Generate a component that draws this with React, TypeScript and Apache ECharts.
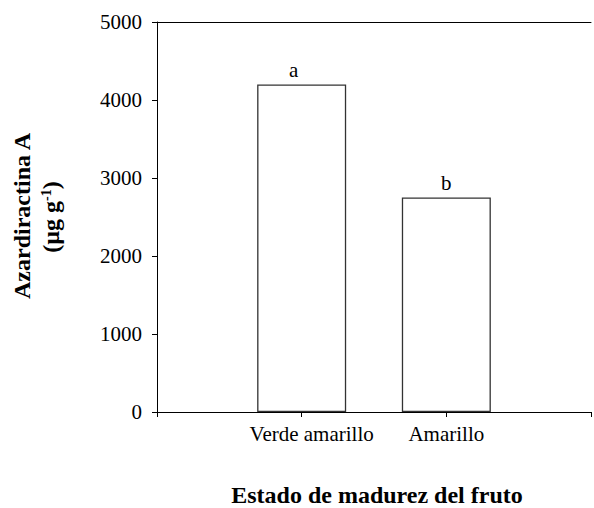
import React, { useEffect, useRef } from "react";
import * as echarts from "echarts";

const categories = ["Verde amarillo", "Amarillo"];
const values = [4200, 2750];
const letters = ["a", "b"];
const yTicks = [0, 1000, 2000, 3000, 4000, 5000];

// small horizontal shifts seen in the reference (pixels)
const categoryLabelShift = [10, 0];
const letterShift = [-8, 0];

const FONT = "'Liberation Serif', 'Times New Roman', serif";

export default function App() {
  const ref = useRef<HTMLDivElement>(null);
  useEffect(() => {
    if (!ref.current) return;
    const chart = echarts.init(ref.current, undefined, { renderer: "svg" });
    const data = values.map((v, i) => ({
      value: [i + 1, v],
      label: { offset: [letterShift[i], 0] },
    }));
    const rich: Record<string, any> = {};
    categories.forEach((_, i) => {
      rich["c" + i] = {
        fontSize: 21,
        color: "#000",
        fontFamily: FONT,
        padding: [0, 0, 0, 2 * categoryLabelShift[i]],
      };
    });
    chart.setOption({
      animation: false,
      backgroundColor: "#ffffff",
      textStyle: { fontFamily: FONT },
      grid: { left: 157, right: -7, top: 22, bottom: 96, containLabel: false },
      xAxis: [
        {
          type: "value",
          min: 0,
          max: 3,
          interval: 1,
          position: "bottom",
          axisLine: { show: true, lineStyle: { color: "#000", width: 1 } },
          axisTick: { show: true, length: 5, lineStyle: { color: "#000" } },
          splitLine: { show: false },
          axisLabel: {
            margin: 11,
            fontSize: 21,
            color: "#000",
            fontFamily: FONT,
            rich,
            formatter: (v: number) => {
              const i = v - 1;
              return categories[i] ? `{c${i}|${categories[i]}}` : "";
            },
          },
        },
        {
          type: "value",
          min: 0,
          max: 3,
          position: "top",
          axisLine: { show: true, lineStyle: { color: "#000", width: 1 } },
          axisTick: { show: false },
          axisLabel: { show: false },
          splitLine: { show: false },
        },
      ],
      yAxis: {
        type: "value",
        min: yTicks[0],
        max: yTicks[yTicks.length - 1],
        interval: 1000,
        axisLine: { show: true, lineStyle: { color: "#000", width: 1 } },
        axisTick: { show: true, length: 5, lineStyle: { color: "#000" } },
        splitLine: { show: false },
        axisLabel: {
          margin: 15,
          fontSize: 21,
          color: "#000",
          fontFamily: FONT,
          formatter: (v: number) => String(v),
        },
      },
      series: [
        {
          type: "bar",
          data,
          barWidth: 89,
          itemStyle: { color: "#ffffff", borderColor: "#333", borderWidth: 1.3 },
          label: {
            show: true,
            position: "top",
            distance: 4,
            fontSize: 21,
            color: "#000",
            fontFamily: FONT,
            formatter: (p: any) => letters[p.dataIndex],
          },
        },
      ],
      graphic: [
        {
          type: "text",
          x: 22,
          y: 216,
          rotation: Math.PI / 2,
          style: {
            text: "Azardiractina A",
            font: `bold 24px ${FONT}`,
            fill: "#000",
            align: "center",
            verticalAlign: "middle",
          },
        },
        {
          type: "text",
          x: 51,
          y: 217,
          rotation: Math.PI / 2,
          style: {
            text: "{n|(µg g}{s|-1}{n|)}",
            align: "center",
            verticalAlign: "middle",
            rich: {
              n: { font: `bold 24px ${FONT}`, fill: "#000", lineHeight: 24 },
              s: { font: `bold 14px ${FONT}`, fill: "#000", verticalAlign: "top", lineHeight: 14 },
            },
          },
        },
        {
          type: "text",
          x: 377,
          y: 495,
          style: {
            text: "Estado de madurez del fruto",
            font: `bold 24px ${FONT}`,
            fill: "#000",
            align: "center",
            verticalAlign: "middle",
          },
        },
      ],
    });
    return () => chart.dispose();
  }, []);
  return (
    <div
      ref={ref}
      style={{ position: "fixed", left: 0, top: 0, width: 594, height: 508 }}
    />
  );
}
